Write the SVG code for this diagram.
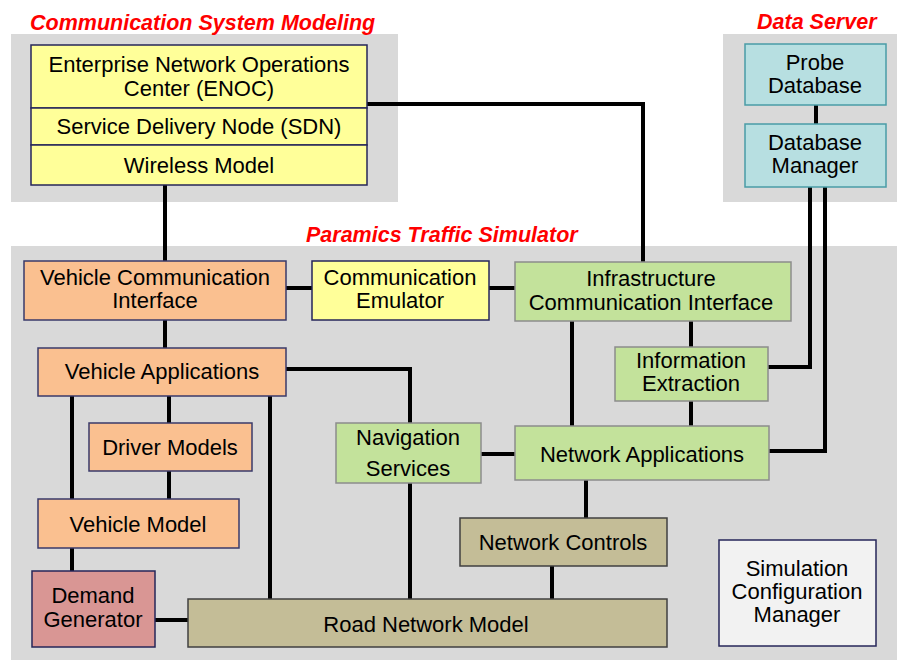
<svg xmlns="http://www.w3.org/2000/svg" width="897" height="660" viewBox="0 0 897 660">
<style>
.panel{fill:#D9D9D9}
.title{font-family:"Liberation Sans",Arial,sans-serif;font-weight:bold;font-style:italic;font-size:21.5px;fill:#FF0000}
.t{font-family:"Liberation Sans",Arial,sans-serif;font-size:22px;fill:#000;text-anchor:middle}
.yel{fill:#FFFF99;stroke:#262659;stroke-width:1.5}
.org{fill:#FAC090;stroke:#3A3A6A;stroke-width:1.5}
.grn{fill:#C3E29B;stroke:#8C8C8C;stroke-width:1.5}
.teal{fill:#B7DFE1;stroke:#4A9CA6;stroke-width:1.5}
.tan{fill:#C4BD97;stroke:#404040;stroke-width:1.5}
.pink{fill:#D99694;stroke:#262659;stroke-width:1.5}
.wht{fill:#F2F2F2;stroke:#262659;stroke-width:1.5}
.c{fill:none;stroke:#000;stroke-width:4}
</style>
<rect width="897" height="660" fill="#FFFFFF"/>
<g id="panels">
<rect class="panel" x="11" y="34" width="387" height="168"/>
<rect class="panel" x="723" y="34" width="174" height="168"/>
<rect class="panel" x="11" y="246" width="886" height="414"/>
<text class="title" x="30" y="30">Communication System Modeling</text>
<text class="title" x="757" y="29">Data Server</text>
<text class="title" x="306" y="242">Paramics Traffic Simulator</text>
</g>
<g id="connectors">
<path class="c" d="M367 104 H643 V262"/>
<path class="c" d="M165 185 V261"/>
<path class="c" d="M816 105 V124"/>
<path class="c" d="M768 367 H810 V187"/>
<path class="c" d="M769 451 H825 V187"/>
<path class="c" d="M286 288 H312"/>
<path class="c" d="M489 288 H515"/>
<path class="c" d="M691 321 V347"/>
<path class="c" d="M691 401 V426"/>
<path class="c" d="M572 321 V426"/>
<path class="c" d="M165 320 V348"/>
<path class="c" d="M286 369 H410 V423"/>
<path class="c" d="M481 454 H515"/>
<path class="c" d="M410 483 V599"/>
<path class="c" d="M72 396 V499"/>
<path class="c" d="M169 396 V423"/>
<path class="c" d="M270 396 V599"/>
<path class="c" d="M169 471 V499"/>
<path class="c" d="M72 548 V571"/>
<path class="c" d="M155 620 H188"/>
<path class="c" d="M586 480 V518"/>
<path class="c" d="M552 566 V599"/>
</g>
<g id="enoc">
<rect class="yel" x="31" y="45" width="336" height="63"/>
<text class="t" x="199" y="72">Enterprise Network Operations</text>
<text class="t" x="199" y="96">Center (ENOC)</text>
</g>
<g id="sdn">
<rect class="yel" x="31" y="108" width="336" height="37"/>
<text class="t" x="199" y="134">Service Delivery Node (SDN)</text>
</g>
<g id="wireless">
<rect class="yel" x="31" y="145" width="336" height="40"/>
<text class="t" x="199" y="173">Wireless Model</text>
</g>
<g id="probe-db">
<rect class="teal" x="745" y="44" width="141" height="61"/>
<text class="t" x="815" y="70">Probe</text>
<text class="t" x="815" y="93">Database</text>
</g>
<g id="db-manager">
<rect class="teal" x="745" y="124" width="141" height="63"/>
<text class="t" x="815" y="150">Database</text>
<text class="t" x="815" y="173">Manager</text>
</g>
<g id="vci">
<rect class="org" x="24" y="261" width="262" height="59"/>
<text class="t" x="155" y="285">Vehicle Communication</text>
<text class="t" x="155" y="308">Interface</text>
</g>
<g id="comm-emulator">
<rect class="yel" x="312" y="261" width="177" height="59"/>
<text class="t" x="400" y="285">Communication</text>
<text class="t" x="400" y="308">Emulator</text>
</g>
<g id="ici">
<rect class="grn" x="515" y="262" width="276" height="59"/>
<text class="t" x="651" y="286">Infrastructure</text>
<text class="t" x="651" y="310">Communication Interface</text>
</g>
<g id="info-extraction">
<rect class="grn" x="615" y="347" width="153" height="54"/>
<text class="t" x="691" y="368">Information</text>
<text class="t" x="691" y="391">Extraction</text>
</g>
<g id="vehicle-apps">
<rect class="org" x="38" y="348" width="248" height="48"/>
<text class="t" x="162" y="379">Vehicle Applications</text>
</g>
<g id="nav-services">
<rect class="grn" x="336" y="423" width="145" height="60"/>
<text class="t" x="408" y="445">Navigation</text>
<text class="t" x="408" y="476">Services</text>
</g>
<g id="network-apps">
<rect class="grn" x="515" y="426" width="254" height="54"/>
<text class="t" x="642" y="462">Network Applications</text>
</g>
<g id="driver-models">
<rect class="org" x="89" y="423" width="163" height="48"/>
<text class="t" x="170" y="455">Driver Models</text>
</g>
<g id="vehicle-model">
<rect class="org" x="38" y="499" width="201" height="49"/>
<text class="t" x="138" y="532">Vehicle Model</text>
</g>
<g id="network-controls">
<rect class="tan" x="460" y="518" width="207" height="48"/>
<text class="t" x="563" y="550">Network Controls</text>
</g>
<g id="demand-generator">
<rect class="pink" x="32" y="571" width="123" height="76"/>
<text class="t" x="93" y="603">Demand</text>
<text class="t" x="93" y="627">Generator</text>
</g>
<g id="road-network">
<rect class="tan" x="188" y="599" width="479" height="48"/>
<text class="t" x="426" y="632">Road Network Model</text>
</g>
<g id="sim-config">
<rect class="wht" x="719" y="540" width="157" height="106"/>
<text class="t" x="797" y="576">Simulation</text>
<text class="t" x="797" y="599">Configuration</text>
<text class="t" x="797" y="622">Manager</text>
</g>
</svg>
